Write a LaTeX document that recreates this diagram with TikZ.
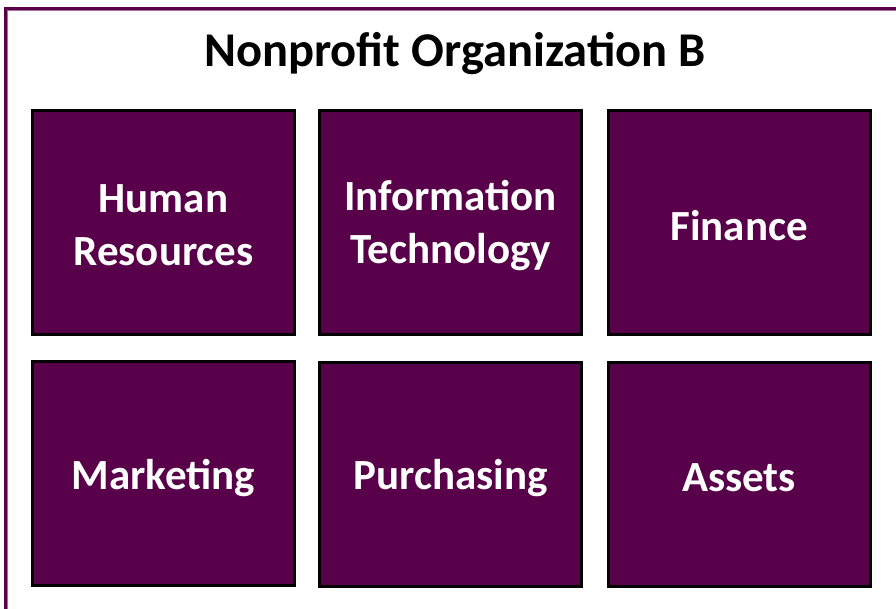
\documentclass[tikz,border=0pt]{standalone}
\usepackage{fontspec}
\setmainfont{Carlito}
\definecolor{plum}{RGB}{88,0,74}
\definecolor{plumlight}{RGB}{170,110,160}
\begin{document}
\begin{tikzpicture}[x=1pt,y=-1pt,
  dept/.style={draw=black, line width=3pt, fill=plum, minimum width=262pt, minimum height=224pt,
    inner sep=0pt},
  depttext/.style={text=white, font=\fontsize{43}{53}\selectfont\bfseries, align=center}]
\useasboundingbox (0,0) rectangle (896,609);
\begin{scope}
\clip (0,0) rectangle (896,609);
\draw[plum, line width=3pt] (5.5,8.5) rectangle (910,620);
\draw[plumlight, line width=0.8pt] (7.8,10.8) rectangle (908,618);
\end{scope}
\node[font=\fontsize{48.5}{58}\selectfont\bfseries] (title) at (455,54) {Nonprofit Organization B};
\node[dept] (hr) at (163.5,222.5) {};
\node[dept] (it) at (450.5,222.5) {};
\node[dept] (fin) at (739,222.5) {};
\node[dept] (mkt) at (163.5,473.5) {};
\node[dept] (pur) at (450.5,474) {};
\node[dept] (ast) at (739,474.5) {};
\node[depttext] (hrt) at (hr) [yshift=-3pt] {Human\\Resources};
\node[depttext] (itt) at (it) [yshift=-3pt] {Information\\Technology};
\node[depttext] (fint) at (fin) [yshift=-3pt] {Finance};
\node[depttext] (mktt) at (mkt) [yshift=-5pt] {Marketing};
\node[depttext] (purt) at (pur) [yshift=-4pt] {Purchasing};
\node[depttext] (astt) at (ast) [yshift=-3pt] {Assets};
\end{tikzpicture}
\end{document}
